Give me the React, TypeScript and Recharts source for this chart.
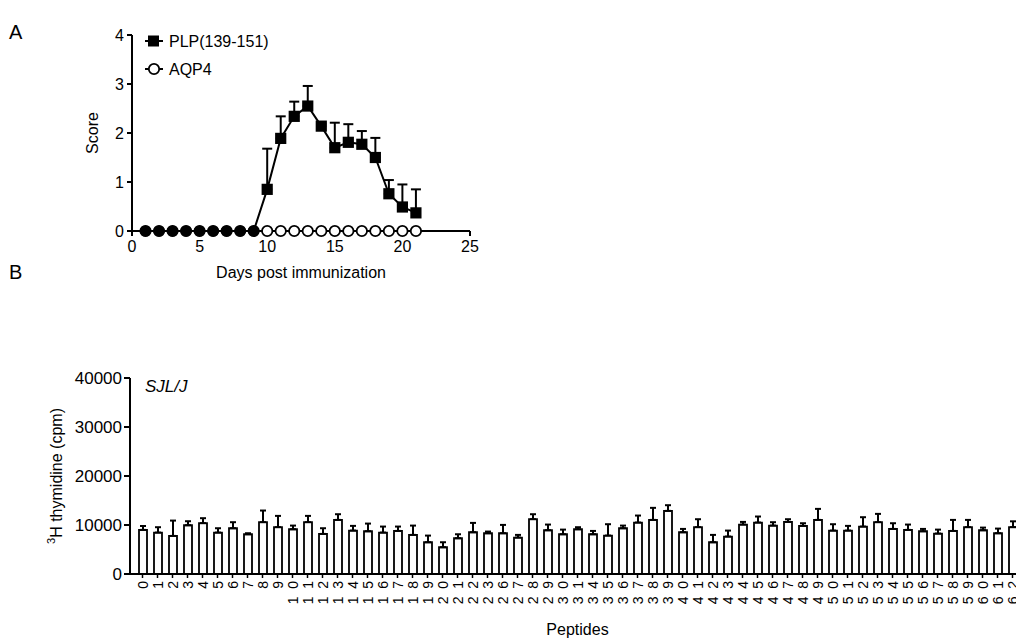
import React from 'react';
import { LineChart, Line, XAxis, YAxis, ErrorBar, Legend, BarChart, Bar } from 'recharts';

const FONT = '"Liberation Sans", Arial, Helvetica, sans-serif';

// Panel A
const days = [1, 2, 3, 4, 5, 6, 7, 8, 9, 10, 11, 12, 13, 14, 15, 16, 17, 18, 19, 20, 21];
const plpMean = [0, 0, 0, 0, 0, 0, 0, 0, 0, 0.85, 1.89, 2.34, 2.55, 2.14, 1.7, 1.81, 1.77, 1.5, 0.76, 0.49, 0.37];
const plpSem = [0, 0, 0, 0, 0, 0, 0, 0, 0, 0.83, 0.45, 0.3, 0.41, 0.05, 0.51, 0.37, 0.27, 0.4, 0.28, 0.46, 0.48];
const aqp4Mean = [0, 0, 0, 0, 0, 0, 0, 0, 0, 0, 0, 0, 0, 0, 0, 0, 0, 0, 0, 0, 0];
const dayTicks = [0, 5, 10, 15, 20, 25];
const scoreTicks = [0, 1, 2, 3, 4];

// Panel B
const peptideLabels = [
  '0', '1', '2', '3', '4', '5', '6', '7', '8', '9', '10', '11', '12', '13', '14', '15', '16', '17', '18', '19',
  '20', '21', '22', '23', '26', '27', '28', '29', '30', '31', '34', '35', '36', '37', '38', '39', '40', '41',
  '42', '43', '44', '45', '46', '47', '48', '49', '50', '51', '52', '53', '54', '55', '56', '57', '58', '59',
  '60', '61', '62',
];
const cpmMean = [
  9000, 8450, 7770, 9950, 10370, 8450, 9340, 8110, 10570, 9550, 9130, 10570, 8180, 11040, 8860, 8720, 8450, 8790,
  7980, 6480, 5460, 7300, 8520, 8320, 8320, 7430, 11180, 8930, 8110, 9130, 8110, 7840, 9340, 10500, 11040, 12880,
  8520, 9550, 6480, 7640, 10090, 10500, 9880, 10630, 9820, 11040, 8860, 8860, 9680, 10570, 9200, 9000, 8720, 8250,
  8790, 9550, 8930, 8320, 9550,
];
const cpmSem = [
  800, 1100, 3130, 820, 1020, 890, 1230, 210, 2380, 2310, 750, 1290, 1160, 1160, 960, 1570, 1230, 890, 1900, 1360,
  1020, 810, 1910, 340, 1700, 550, 1020, 1160, 950, 420, 680, 2320, 540, 1430, 2460, 1160, 680, 1630, 1500, 1220,
  540, 1230, 690, 550, 540, 2250, 1300, 960, 1910, 1700, 1160, 1090, 480, 810, 2250, 1490, 540, 950, 1200,
];
const cpmTicks = [0, 10000, 20000, 30000, 40000];

const lineData = days.map((d, i) => ({
  day: d,
  plp: plpMean[i],
  plpErr: [0, plpSem[i]],
  aqp4: aqp4Mean[i],
}));

const barData = peptideLabels.map((p, i) => ({
  pep: p,
  cpm: cpmMean[i],
  cpmErr: [0, cpmSem[i]],
}));

const PlpDot = (props: any) => {
  const { cx, cy, payload, index } = props;
  if (cx == null || cy == null) return null;
  if (payload.plp === 0) return <circle key={`p${index}`} cx={cx} cy={cy} r={5.6} fill="#000" />;
  return <rect key={`p${index}`} x={cx - 5.6} y={cy - 5.6} width={11.2} height={11.2} fill="#000" />;
};

const LegendA = () => (
  <svg width={150} height={50} style={{ display: 'block', fontFamily: FONT }}>
    <line x1={5} y1={12} x2={23} y2={12} stroke="#000" strokeWidth={2} />
    <rect x={8} y={6.5} width={11} height={11} fill="#000" />
    <text x={29} y={12} dominantBaseline="central" fontSize={16} fill="#000">PLP(139-151)</text>
    <line x1={5} y1={40} x2={23} y2={40} stroke="#000" strokeWidth={2} />
    <circle cx={14} cy={40} r={5.2} fill="#fff" stroke="#000" strokeWidth={1.8} />
    <text x={29} y={40} dominantBaseline="central" fontSize={16} fill="#000">AQP4</text>
  </svg>
);

const PepTick = (props: any) => {
  const { x, y, payload } = props;
  const label = String(payload.value);
  const len = label.length * 15.5 - 7.7;
  return (
    <g transform={`translate(${x}, ${y}) rotate(-90)`}>
      <text
        x={0}
        y={0}
        textAnchor="end"
        dominantBaseline="central"
        fontSize={14}
        textLength={len}
        lengthAdjust="spacing"
        fontFamily={FONT}
        fill="#000"
      >
        {label}
      </text>
    </g>
  );
};

const CpmLabel = (props: any) => {
  const { viewBox } = props;
  const cx = viewBox.x - 4;
  const cy = viewBox.y + viewBox.height / 2;
  return (
    <g transform={`translate(${cx}, ${cy}) rotate(-90)`}>
      <text x={0} y={0} textAnchor="middle" dominantBaseline="central" fontSize={16} fontFamily={FONT} fill="#000">
        <tspan fontSize={11} dy={-5}>3</tspan>
        <tspan dy={5}>H thymidine (cpm)</tspan>
      </text>
    </g>
  );
};

const tickStyle = { fontSize: 16, fill: '#000', fontFamily: FONT };
const axisLine = { stroke: '#000', strokeWidth: 2 };
const tickLine = { stroke: '#000', strokeWidth: 2 };

export default function App() {
  return (
    <div
      style={{
        position: 'absolute',
        left: 0,
        top: 0,
        width: 1016,
        height: 639,
        overflow: 'hidden',
        background: '#fff',
        fontFamily: FONT,
      }}
    >
      <div style={{ position: 'absolute', left: 9, top: 22, fontSize: 20, lineHeight: '20px' }}>A</div>
      <div style={{ position: 'absolute', left: 9, top: 262, fontSize: 20, lineHeight: '20px' }}>B</div>
      <div style={{ position: 'absolute', left: 145, top: 378, fontSize: 17, lineHeight: '17px', fontStyle: 'italic' }}>
        SJL/J
      </div>

      <div style={{ position: 'absolute', left: 0, top: 0 }}>
        <LineChart width={500} height={300} data={lineData} margin={{ top: 35, right: 30, bottom: 39, left: 72 }}>
          <XAxis
            type="number"
            dataKey="day"
            domain={[0, 25]}
            ticks={dayTicks}
            axisLine={axisLine}
            tickLine={tickLine}
            tickSize={5}
            tickMargin={5}
            tick={tickStyle}
            height={30}
            label={{ value: 'Days post immunization', position: 'bottom', offset: 6, style: { fontSize: 16, fill: '#000', fontFamily: FONT } }}
          />
          <YAxis
            type="number"
            domain={[0, 4]}
            ticks={scoreTicks}
            axisLine={axisLine}
            tickLine={tickLine}
            tickSize={5}
            tickMargin={3}
            tick={tickStyle}
            width={60}
            label={{ value: 'Score', angle: -90, position: 'insideLeft', offset: 20, style: { textAnchor: 'middle', fontSize: 16, fill: '#000', fontFamily: FONT } }}
          />
          <Legend
            layout="vertical"
            verticalAlign="middle"
            align="center"
            content={<LegendA />}
            wrapperStyle={{ position: 'absolute', left: 140, top: 29, width: 150, height: 50 }}
          />
          <Line
            dataKey="aqp4"
            stroke="#000"
            strokeWidth={2}
            isAnimationActive={false}
            dot={{ r: 5.2, fill: '#fff', stroke: '#000', strokeWidth: 1.8 }}
            legendType="circle"
          />
          <Line
            dataKey="plp"
            stroke="#000"
            strokeWidth={2}
            isAnimationActive={false}
            dot={<PlpDot />}
            legendType="square"
          >
            <ErrorBar dataKey="plpErr" width={5} stroke="#000" strokeWidth={2} direction="y" />
          </Line>
        </LineChart>
      </div>

      <div style={{ position: 'absolute', left: 0, top: 300 }}>
        <BarChart width={1040} height={339} data={barData} margin={{ top: 78, right: 15, bottom: 15, left: 60 }}>
          <XAxis
            dataKey="pep"
            interval={0}
            padding={{ left: 5, right: 5 }}
            axisLine={axisLine}
            tickLine={{ stroke: '#000', strokeWidth: 1.5 }}
            tickSize={4}
            tickMargin={3}
            tick={<PepTick />}
            height={50}
            label={{ value: 'Peptides', position: 'bottom', offset: 0, style: { fontSize: 16, fill: '#000', fontFamily: FONT } }}
          />
          <YAxis
            type="number"
            domain={[0, 40000]}
            ticks={cpmTicks}
            axisLine={axisLine}
            tickLine={tickLine}
            tickSize={6}
            tickMargin={2}
            tick={{ fontSize: 17, fill: '#000', fontFamily: FONT }}
            width={70}
            label={<CpmLabel />}
          />
          <Bar dataKey="cpm" fill="#fff" stroke="#000" strokeWidth={1.8} barSize={8} isAnimationActive={false}>
            <ErrorBar dataKey="cpmErr" width={3} stroke="#000" strokeWidth={2} direction="y" />
          </Bar>
        </BarChart>
      </div>
    </div>
  );
}
